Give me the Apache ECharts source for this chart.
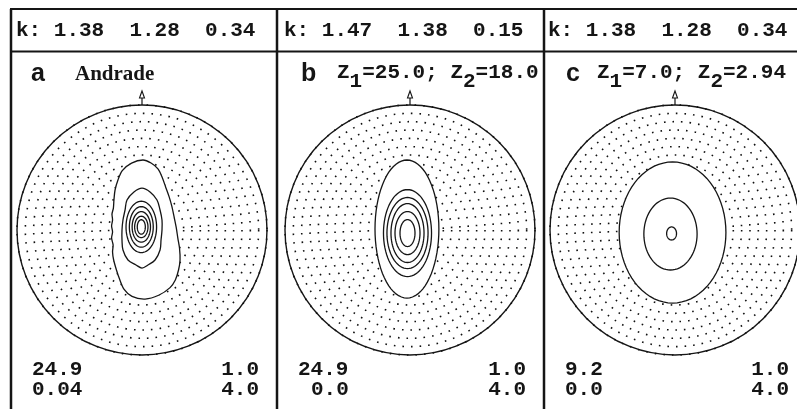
<!DOCTYPE html>
<html><head><meta charset="utf-8">
<script src="https://cdn.jsdelivr.net/npm/echarts@6/dist/echarts.min.js"></script>
<style>html,body{margin:0;padding:0;background:#fff}#c{width:797px;height:409px}</style>
</head><body><div id="c"></div>
<script>
// ---------------- data ----------------
const panelLetters = ['a', 'b', 'c'];
const kValues = [[1.38, 1.28, 0.34], [1.47, 1.38, 0.15], [1.38, 1.28, 0.34]];
const titleA = 'Andrade';
const titleZ = [['25.0', '18.0'], ['7.0', '2.94']];     // Z1, Z2 for panels b, c
const maxDensity = ['24.9', '24.9', '9.2'];
const minDensity = ['0.04', '0.0', '0.0'];
const contourStart = ['1.0', '1.0', '1.0'];
const contourStep = ['4.0', '4.0', '4.0'];

// contours in projection degrees (x to the right, y up, 90 = primitive circle)
const contourA_outer = [[0.7,50.4],[6.5,48.2],[11.5,44],[14.5,38],[17,31],[19.5,24],[21.5,17],[23.2,9],[24.6,2],[25.8,-5.8],[27,-13],[27.4,-21.6],[26.3,-28.8],[24,-36],[20.2,-41.5],[12,-47],[2.2,-49.7],[-7.2,-47.8],[-13,-42.5],[-16.3,-35],[-18.4,-28.8],[-20.4,-21.6],[-21.2,-15.8],[-20.8,-10.8],[-21.9,-5.8],[-21.2,-1.4],[-21.9,2.9],[-21.2,7.2],[-21.6,11.5],[-20.6,15.8],[-20.2,21.6],[-19.4,28.8],[-17.3,36],[-14.2,42.8],[-7.5,48.2]];
const contourA_second = [[0,30.2],[5.8,27.4],[10.8,21.6],[13,14.4],[14.4,7.2],[14.4,0],[13.7,-7.2],[13,-14.4],[9.4,-21.6],[4.3,-25.2],[0,-27.4],[-4.3,-25.2],[-10.1,-21.6],[-13.7,-14.4],[-14.4,-7.2],[-14.4,0],[-13.7,7.2],[-12.2,14.4],[-10.8,21.6],[-5.8,27.4]];
// ellipses: [cx, cy, rx, ry]
const contourA_inner = [[-0.5,2.2,11,18.5],[-0.5,2.2,8.6,14.6],[-0.5,2.2,6.6,11],[-0.5,2.2,4.8,7.7],[-0.5,2.2,2.9,5.2]];
const contourB = [[-2.2,0.7,23,49.7],[-1.8,-2.2,17.3,31.3],[-1.8,-2.2,14.8,25.6],[-1.8,-2.2,11.9,21.2],[-1.8,-2.2,9,15.5],[-1.8,-2.2,5.4,9.7]];
const contourC = [[-0.7,-1.8,38.9,50.8],[-2.2,-2.9,19.4,25.9],[-1.4,-2.5,3.6,4.7]];

// ---------------- layout ----------------
const CX = [142, 410, 675], CY = 230, RAD = 125;
const FONT_MONO = '"Liberation Mono", "Courier New", monospace';
const FS = 21, ADV = FS * 0.6;
const INK = '#151515';

function ellipsePts(e) {
  const pts = [];
  for (let k = 0; k < 72; k++) {
    const t = k / 72 * Math.PI * 2;
    pts.push([e[0] + e[2] * Math.cos(t), e[1] + e[3] * Math.sin(t)]);
  }
  return pts;
}
const shapes = [
  [{ pts: contourA_outer, smooth: 0.3 }, { pts: contourA_second, smooth: 0.35 }].concat(contourA_inner.map(e => ({ pts: ellipsePts(e), smooth: 0 }))),
  contourB.map(e => ({ pts: ellipsePts(e), smooth: 0 })),
  contourC.map(e => ({ pts: ellipsePts(e), smooth: 0 }))
];

function contourSeries(i) {
  const list = shapes[i];
  return {
    type: 'custom', coordinateSystem: 'cartesian2d', xAxisIndex: i, yAxisIndex: i,
    data: list.map(s => s.pts[0]),
    silent: true, animation: false, clip: false,
    renderItem: (params, api) => {
      const s = list[params.dataIndex];
      return {
        type: 'polygon',
        shape: { points: s.pts.map(p => api.coord(p)), smooth: s.smooth },
        style: { fill: params.dataIndex === 0 ? '#fff' : 'none', stroke: INK, lineWidth: 1.3 }
      };
    }
  };
}

const graphics = [];
function line(x1, y1, x2, y2, w) {
  graphics.push({ type: 'line', shape: { x1, y1, x2, y2 }, style: { stroke: INK, lineWidth: w || 2 }, silent: true });
}
function text(x, y, str, opt) {
  graphics.push({ type: 'text', x, y, silent: true, style: Object.assign({
    text: str, fill: INK, font: 'bold ' + FS + 'px ' + FONT_MONO, textAlign: 'left', textVerticalAlign: 'middle', verticalAlign: 'middle'
  }, opt || {}) });
}
// frame
line(10, 9, 797, 9);
line(10, 51.5, 797, 51.5);
line(11, 9, 11, 409, 2.5);
line(277, 9, 277, 409, 2.5);
line(544, 9, 544, 409, 2.5);

// headers
const headerX = [16, 284, 548];
kValues.forEach((k, i) => text(headerX[i], 30.5, 'k: ' + k.map(v => v.toFixed(2)).join('  ')));

// panel letters & titles
const letterX = [31, 301, 566];
panelLetters.forEach((l, i) => text(letterX[i], 74, l, { font: 'bold 25px "Liberation Sans", Arial, sans-serif' }));
text(75, 75, titleA, { font: 'bold 21px "Liberation Serif", "Times New Roman", serif' });
const zX = [337, 597];
titleZ.forEach((z, j) => {
  const x0 = zX[j];
  const p1 = '=' + z[0] + '; Z';
  text(x0, 73, 'Z');
  text(x0 + ADV, 82, '1');
  text(x0 + 2 * ADV, 73, p1);
  text(x0 + (2 + p1.length) * ADV, 82, '2');
  text(x0 + (3 + p1.length) * ADV, 73, '=' + z[1]);
});

// bottom numbers
const botLX1 = [32, 298, 565], botLX2 = [32, 311, 565], botRX = [259, 526, 789];
for (let i = 0; i < 3; i++) {
  text(botLX1[i], 369.5, maxDensity[i]);
  text(botLX2[i], 390, minDensity[i]);
  text(botRX[i], 369.5, contourStart[i], { textAlign: 'right', align: 'right' });
  text(botRX[i], 390, contourStep[i], { textAlign: 'right', align: 'right' });
}

// north arrows
CX.forEach(cx => {
  graphics.push({ type: 'line', shape: { x1: cx, y1: CY - RAD, x2: cx, y2: CY - RAD - 8 }, style: { stroke: INK, lineWidth: 1.2 }, silent: true });
  graphics.push({ type: 'polygon', shape: { points: [[cx - 2.5, CY - RAD - 7], [cx, CY - RAD - 14], [cx + 2.5, CY - RAD - 7]] }, style: { fill: '#fff', stroke: INK, lineWidth: 1.1 }, silent: true });
});

const option = {
  backgroundColor: '#fff',
  animation: false,
  polar: CX.map(cx => ({ center: [cx, CY], radius: RAD })),
  angleAxis: CX.map((_, i) => ({
    polarIndex: i, type: 'value', min: 0, max: 360, startAngle: 90,
    axisLine: { show: true, lineStyle: { color: INK, width: 1.4 } },
    axisTick: { show: false }, axisLabel: { show: false }, splitLine: { show: false }
  })),
  radiusAxis: CX.map((_, i) => ({
    polarIndex: i, type: 'value', min: 0, max: 90, interval: 6,
    axisLine: { show: false }, axisTick: { show: false }, axisLabel: { show: false },
    splitLine: { show: true, lineStyle: { color: '#111', width: 1.6, type: [1.6, 7] } }
  })),
  grid: CX.map(cx => ({ left: cx - RAD, top: CY - RAD, width: 2 * RAD, height: 2 * RAD })),
  xAxis: CX.map((_, i) => ({ gridIndex: i, type: 'value', min: -90, max: 90, show: false })),
  yAxis: CX.map((_, i) => ({ gridIndex: i, type: 'value', min: -90, max: 90, show: false })),
  series: [0, 1, 2].map(contourSeries),
  graphic: graphics
};
const chart = echarts.init(document.getElementById('c'), null, { renderer: 'canvas' });
chart.setOption(option);
</script></body></html>
